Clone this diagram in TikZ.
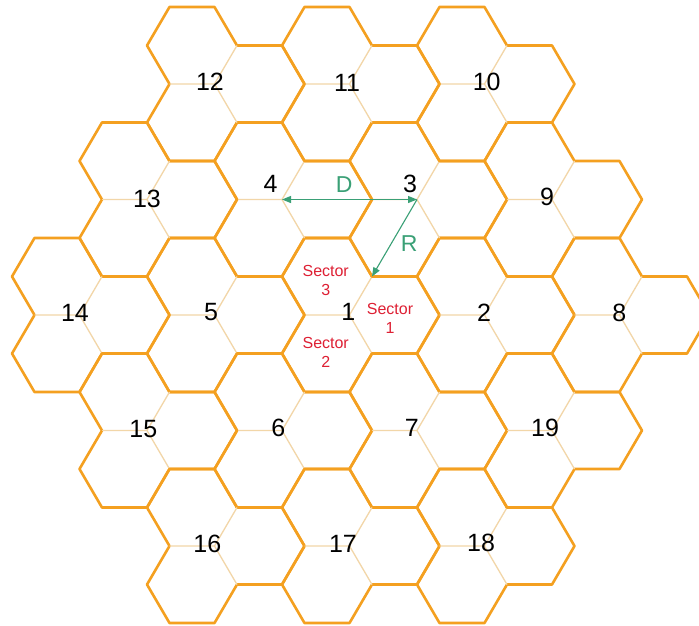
\documentclass[tikz,border=0pt]{standalone}
\usepackage{fontspec}
\setmainfont{Liberation Sans}
\usetikzlibrary{arrows.meta,calc}
\definecolor{hexorange}{RGB}{244,160,32}
\definecolor{hexthin}{RGB}{242,214,168}
\definecolor{arrowgreen}{RGB}{58,160,118}
\definecolor{sectorred}{RGB}{222,32,52}
\def\s{45}
\def\h{38.5}
\tikzset{
  hexline/.style={draw=hexorange, line width=2.6pt, line join=round},
  sectorline/.style={draw=hexthin, line width=1.3pt},
  site/.pic={
    \path[hexline] (2*\s,0) -- (1.5*\s,-\h) -- (0.5*\s,-\h) -- (0,-2*\h) -- (-\s,-2*\h) -- (-1.5*\s,-\h)
      -- (-\s,0) -- (-1.5*\s,\h) -- (-\s,2*\h) -- (0,2*\h) -- (0.5*\s,\h) -- (1.5*\s,\h) -- cycle;
    \path[sectorline] (0,0) -- (0.5*\s,-\h) (0,0) -- (-\s,0) (0,0) -- (0.5*\s,\h);
  },
  sitelabel/.style={font=\fontsize{25}{25}\selectfont, text=black, inner sep=0pt},
  seclabel/.style={font=\fontsize{16}{19}\selectfont, text=sectorred, align=center, inner sep=0pt},
  dimlabel/.style={font=\fontsize{23}{23}\selectfont, text=arrowgreen, inner sep=0pt},
  dimarrow/.style={draw=arrowgreen, line width=1.1pt},
}
\begin{document}
\begin{tikzpicture}[x=1pt, y=-1pt]
\useasboundingbox (0,0) rectangle (699,625);
\fill[white] (0,0) rectangle (699,625);
\clip (0,0) rectangle (699,625);
% site vertices
\coordinate (s1) at (349.5,315);
\coordinate (s2) at (484.5,315);
\coordinate (s3) at (417,199.5);
\coordinate (s4) at (282,199.5);
\coordinate (s5) at (214.5,315);
\coordinate (s6) at (282,430.5);
\coordinate (s7) at (417,430.5);
\coordinate (s8) at (619.5,315);
\coordinate (s9) at (552,199.5);
\coordinate (s10) at (484.5,84);
\coordinate (s11) at (349.5,84);
\coordinate (s12) at (214.5,84);
\coordinate (s13) at (147,199.5);
\coordinate (s14) at (79.5,315);
\coordinate (s15) at (147,430.5);
\coordinate (s16) at (214.5,546);
\coordinate (s17) at (349.5,546);
\coordinate (s18) at (484.5,546);
\coordinate (s19) at (552,430.5);
\foreach \i in {1,...,19} { \pic at (s\i) {site}; }
% R arrow end: upper-right vertex of site 1
\coordinate (r1) at ($(s1)+(0.5*\s,-\h)$);
% site labels
\node[sitelabel] (l1) at (348.3,311.7) {1};
\node[sitelabel] (l2) at (484,313) {2};
\node[sitelabel] (l3) at (410,184) {3};
\node[sitelabel] (l4) at (270.5,184) {4};
\node[sitelabel] (l5) at (211,312) {5};
\node[sitelabel] (l6) at (278.3,428.3) {6};
\node[sitelabel] (l7) at (411.7,428.3) {7};
\node[sitelabel] (l8) at (619.3,313.3) {8};
\node[sitelabel] (l9) at (547,197) {9};
\node[sitelabel] (l10) at (486.7,81.7) {10};
\node[sitelabel] (l11) at (347,83) {11};
\node[sitelabel] (l12) at (210,81.7) {12};
\node[sitelabel] (l13) at (147,199) {13};
\node[sitelabel] (l14) at (75,313.3) {14};
\node[sitelabel] (l15) at (143.3,429.3) {15};
\node[sitelabel] (l16) at (207.3,544) {16};
\node[sitelabel] (l17) at (343,544) {17};
\node[sitelabel] (l18) at (481,543.3) {18};
\node[sitelabel] (l19) at (545,428.3) {19};
% sector labels
\node[seclabel] (sec3) at (325.7,280) {Sector\\3};
\node[seclabel] (sec1) at (390,318.8) {Sector\\1};
\node[seclabel] (sec2) at (325.7,352.8) {Sector\\2};
% D and R
\draw[dimarrow, {Triangle[length=9pt,width=7pt]}-{Triangle[length=9pt,width=7pt]}] (s4) -- (s3);
\draw[dimarrow, -{Triangle[length=9pt,width=7pt]}] (s3) -- (r1);
\node[dimlabel] (dl) at (344.3,185) {D};
\node[dimlabel] (rl) at (409.3,243.3) {R};
\end{tikzpicture}
\end{document}
